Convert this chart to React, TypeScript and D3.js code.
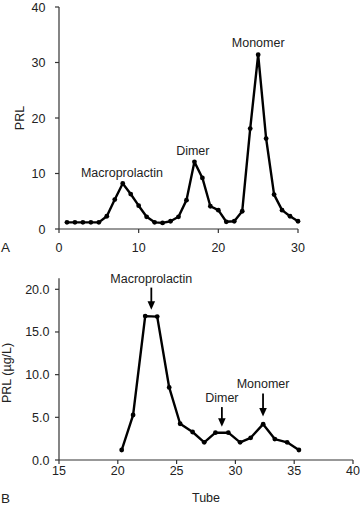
import React from "react";
import * as d3 from "d3";

const tubesA = [1, 2, 3, 4, 5, 6, 7, 8, 9, 10, 11, 12, 13, 14, 15, 16, 17, 18, 19, 20, 21, 22, 23, 24, 25, 26, 27, 28, 29, 30];
const prlA = [1.2, 1.2, 1.2, 1.2, 1.2, 2.3, 5.3, 8.2, 6.3, 4.2, 2.2, 1.2, 1.1, 1.4, 2.2, 5.2, 12.1, 9.2, 4.1, 3.4, 1.3, 1.4, 3.2, 18.1, 31.4, 16.3, 6.2, 3.4, 2.3, 1.4];
const ticksAX = [0, 10, 20, 30];
const ticksAY = [0, 10, 20, 30, 40];
const labelsA = [
  { text: "Macroprolactin", x: 7.9, y: 9.3 },
  { text: "Dimer", x: 16.8, y: 13.3 },
  { text: "Monomer", x: 25, y: 32.8 },
];

const tubesB = [20.33, 21.3, 22.33, 23.35, 24.37, 25.3, 26.36, 27.35, 28.3, 29.4, 30.4, 31.3, 32.36, 33.35, 34.4, 35.4];
const prlB = [1.17, 5.27, 16.86, 16.8, 8.5, 4.25, 3.28, 2.07, 3.2, 3.2, 2.07, 2.6, 4.2, 2.45, 2.07, 1.17];
const ticksBX = [15, 20, 25, 30, 35, 40];
const ticksBY = [0, 5, 10, 15, 20];
const arrowsB = [
  { text: "Macroprolactin", x: 22.85, top: 20.2, tip: 17.6 },
  { text: "Dimer", x: 28.85, top: 6.2, tip: 3.9 },
  { text: "Monomer", x: 32.35, top: 7.8, tip: 5.1 },
];

const FONT = "'Liberation Sans', Arial, Helvetica, sans-serif";
const AXIS = "#333";
const TXT = "#222";
const FS = 12.5;

export default function App() {
  const xA = d3.scaleLinear().domain([0, 30]).range([59, 298]);
  const yA = d3.scaleLinear().domain([0, 40]).range([229, 7]);
  const xB = d3.scaleLinear().domain([15, 40]).range([59, 353]);
  const yB = d3.scaleLinear().domain([0, 20]).range([460, 289.3]);

  const ptsA = tubesA.map((t, i) => [t, prlA[i]] as [number, number]);
  const ptsB = tubesB.map((t, i) => [t, prlB[i]] as [number, number]);
  const lineA = d3.line<[number, number]>().x((d) => xA(d[0])).y((d) => yA(d[1]));
  const lineB = d3.line<[number, number]>().x((d) => xB(d[0])).y((d) => yB(d[1]));

  return (
    <svg
      width={360}
      height={506}
      style={{ position: "fixed", left: 0, top: 0, background: "#fff" }}
      fontFamily={FONT}
    >
      <rect width={360} height={506} fill="#fff" />
      {/* Panel A */}
      <g>
        <line x1={xA(0)} x2={xA(30)} y1={yA(0)} y2={yA(0)} stroke={AXIS} strokeWidth={1.2} />
        <line x1={xA(0)} x2={xA(0)} y1={yA(0)} y2={yA(40)} stroke={AXIS} strokeWidth={1.2} />
        {ticksAX.map((t) => (
          <g key={"ax" + t}>
            <line x1={xA(t)} x2={xA(t)} y1={yA(0)} y2={yA(0) + 4} stroke={AXIS} strokeWidth={1.2} />
            <text x={xA(t)} y={251.5} textAnchor="middle" fontSize={FS} fill={TXT}>{t}</text>
          </g>
        ))}
        {ticksAY.map((t) => (
          <g key={"ay" + t}>
            <line x1={xA(0) - 4} x2={xA(0)} y1={yA(t)} y2={yA(t)} stroke={AXIS} strokeWidth={1.2} />
            <text x={45.5} y={yA(t) + 4.5} textAnchor="end" fontSize={FS} fill={TXT}>{t}</text>
          </g>
        ))}
        <text transform={`translate(24,${yA(20)}) rotate(-90)`} textAnchor="middle" fontSize={FS} fill={TXT}>PRL</text>
        <text x={1} y={251.5} fontSize={13.5} fill={TXT}>A</text>
        <path d={lineA(ptsA) || ""} fill="none" stroke="#000" strokeWidth={2.4} strokeLinejoin="round" />
        {ptsA.map((p, i) => (
          <circle key={"pa" + i} cx={xA(p[0])} cy={yA(p[1])} r={2.4} fill="#000" />
        ))}
        {labelsA.map((l) => (
          <text key={l.text} x={xA(l.x)} y={yA(l.y)} textAnchor="middle" fontSize={FS} fill={TXT}>{l.text}</text>
        ))}
      </g>
      {/* Panel B */}
      <g>
        <line x1={xB(15)} x2={xB(40)} y1={yB(0)} y2={yB(0)} stroke={AXIS} strokeWidth={1.2} />
        <line x1={xB(15)} x2={xB(15)} y1={yB(0)} y2={yB(21.3)} stroke={AXIS} strokeWidth={1.2} />
        {ticksBX.map((t) => (
          <g key={"bx" + t}>
            <line x1={xB(t)} x2={xB(t)} y1={yB(0)} y2={yB(0) + 4} stroke={AXIS} strokeWidth={1.2} />
            <text x={xB(t)} y={475} textAnchor="middle" fontSize={FS} fill={TXT}>{t}</text>
          </g>
        ))}
        {ticksBY.map((t) => (
          <g key={"by" + t}>
            <line x1={xB(15) - 4} x2={xB(15)} y1={yB(t)} y2={yB(t)} stroke={AXIS} strokeWidth={1.2} />
            <text x={49.5} y={yB(t) + 4.5} textAnchor="end" fontSize={FS} fill={TXT}>{t.toFixed(1)}</text>
          </g>
        ))}
        <text transform={`translate(11,${yB(10.2)}) rotate(-90)`} textAnchor="middle" fontSize={FS} fill={TXT}>PRL (µg/L)</text>
        <text x={206} y={502} textAnchor="middle" fontSize={FS} fill={TXT}>Tube</text>
        <text x={1} y={503} fontSize={13.5} fill={TXT}>B</text>
        <path d={lineB(ptsB) || ""} fill="none" stroke="#000" strokeWidth={2.4} strokeLinejoin="round" />
        {ptsB.map((p, i) => (
          <circle key={"pb" + i} cx={xB(p[0])} cy={yB(p[1])} r={2.4} fill="#000" />
        ))}
        {arrowsB.map((a) => {
          const x = xB(a.x);
          const yTop = yB(a.top);
          const yTip = yB(a.tip);
          return (
            <g key={a.text}>
              <text x={x} y={yTop - 5} textAnchor="middle" fontSize={FS} fill={TXT}>{a.text}</text>
              <line x1={x} x2={x} y1={yTop} y2={yTip - 6} stroke="#000" strokeWidth={1.8} />
              <path d={`M${x - 3.8},${yTip - 8.5} L${x + 3.8},${yTip - 8.5} L${x},${yTip} Z`} fill="#000" />
            </g>
          );
        })}
      </g>
    </svg>
  );
}
